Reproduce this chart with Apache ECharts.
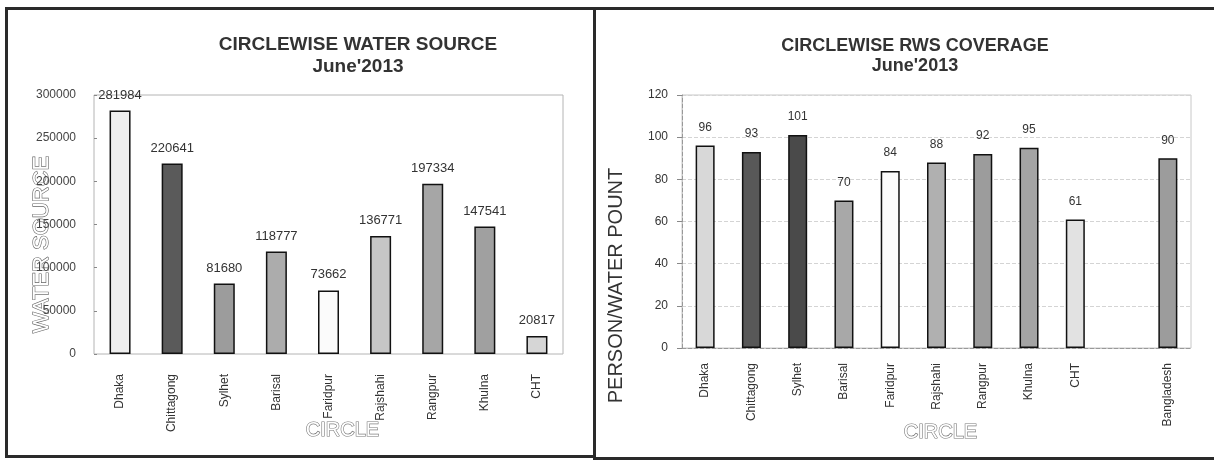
<!DOCTYPE html>
<html>
<head>
<meta charset="utf-8">
<script src="https://cdn.jsdelivr.net/npm/echarts@6/dist/echarts.min.js"></script>
<style>
	html, body { margin: 0; padding: 0; background: #fff; }
	#wrap { position: relative; width: 1214px; height: 461px; overflow: hidden; }
	.frame { position: absolute; border: 3px solid #2a2a2a; box-sizing: border-box; }
	#main { position: absolute; left: 0; top: 0; width: 1214px; height: 461px; }
</style>
</head>
<body>
<div id="wrap">
	<div class="frame" style="left:5px;top:7px;width:591px;height:451px;"></div>
	<div class="frame" style="left:593px;top:7px;width:640px;height:453px;"></div>
	<div id="main"></div>
</div>
<script>
	// left chart: water sources per circle
	var circles = ['Dhaka', 'Chittagong', 'Sylhet', 'Barisal', 'Faridpur', 'Rajshahi', 'Rangpur', 'Khulna', 'CHT'];
	var waterSource = [281984, 220641, 81680, 118777, 73662, 136771, 197334, 147541, 20817];
	var sourceTicks = [0, 50000, 100000, 150000, 200000, 250000, 300000];

	// right chart: persons per water point (blank slot before national figure)
	var coverageCircles = ['Dhaka', 'Chittagong', 'Sylhet', 'Barisal', 'Faridpur', 'Rajshahi', 'Rangpur', 'Khulna', 'CHT', '', 'Bangladesh'];
	var coverage = [96, 93, 101, 70, 84, 88, 92, 95, 61, '-', 90];
	var coverageTicks = [0, 20, 40, 60, 80, 100, 120];

	// bar fills, as in the scanned print
	var sourceColors = ['#eeeeee', '#5a5a5a', '#9c9c9c', '#acacac', '#fbfbfb', '#c6c6c6', '#a6a6a6', '#a0a0a0', '#d6d6d6'];
	var coverageColors = ['#d8d8d8', '#585858', '#4a4a4a', '#a8a8a8', '#fbfbfb', '#b0b0b0', '#9c9c9c', '#a4a4a4', '#e2e2e2', '#ffffff', '#9c9c9c'];

	var font = 'Liberation Sans, Arial, sans-serif';

	function bars(values, colors) {
		return values.map(function(v, i) {
			return {
				value: v,
				itemStyle: { color: colors[i], borderColor: '#111', borderWidth: 1.5 }
			};
		});
	}

	var chart = echarts.init(document.getElementById('main'));
	var option = {
		animation: false,
		title: [{
			text: "CIRCLEWISE WATER SOURCE\nJune'2013",
			left: 353,
			top: 29,
			textAlign: 'center',
			textStyle: { fontFamily: font, fontSize: 19, fontWeight: 'bold', color: '#333', lineHeight: 22 }
		}, {
			text: "CIRCLEWISE RWS COVERAGE\nJune'2013",
			left: 910,
			top: 31,
			textAlign: 'center',
			textStyle: { fontFamily: font, fontSize: 18, fontWeight: 'bold', color: '#333', lineHeight: 20 }
		}],
		grid: [{
			left: 94, right: 651, top: 95, bottom: 107,
			show: true, borderColor: '#b4b4b4', borderWidth: 1
		}, {
			left: 682, right: 23, top: 95, bottom: 113,
			show: true, borderColor: '#c8c8c8', borderWidth: 1
		}],
		xAxis: [{
			gridIndex: 0,
			type: 'category',
			data: circles,
			axisLine: { show: false },
			axisTick: { show: false },
			axisLabel: { rotate: 90, margin: 20, fontFamily: font, fontSize: 12, color: '#333', interval: 0 },
			name: 'CIRCLE',
			nameLocation: 'middle',
			nameGap: 66,
			nameMoveOverlap: false,
			nameTextStyle: {
				fontFamily: font, fontSize: 20, color: '#ffffff',
				textBorderColor: '#777', textBorderWidth: 1.2, padding: [0, 0, 0, 28]
			}
		}, {
			gridIndex: 1,
			type: 'category',
			data: coverageCircles,
			axisLine: { show: true, lineStyle: { color: '#999', type: 'dashed' } },
			axisTick: { show: false },
			axisLabel: { rotate: 90, margin: 15, fontFamily: font, fontSize: 12, color: '#333', interval: 0 },
			name: 'CIRCLE',
			nameLocation: 'middle',
			nameGap: 74,
			nameMoveOverlap: false,
			nameTextStyle: {
				fontFamily: font, fontSize: 20, color: '#ffffff',
				textBorderColor: '#777', textBorderWidth: 1.2, padding: [0, 0, 0, 8]
			}
		}],
		yAxis: [{
			gridIndex: 0,
			type: 'value',
			min: sourceTicks[0],
			max: sourceTicks[sourceTicks.length - 1],
			interval: sourceTicks[1] - sourceTicks[0],
			axisLine: { show: false },
			axisTick: { show: true, inside: true, length: 3, lineStyle: { color: '#888' } },
			splitLine: { show: false },
			axisLabel: {
				margin: 18, fontFamily: font, fontSize: 12, color: '#444',
				formatter: function(v) { return String(v); }
			},
			name: 'WATER SOURCE',
			nameLocation: 'middle',
			nameGap: 41,
			nameRotate: 90,
			nameMoveOverlap: false,
			nameTextStyle: {
				fontFamily: font, fontSize: 22, color: '#ffffff',
				textBorderColor: '#666', textBorderWidth: 1.2, padding: [0, 40, 0, 0]
			}
		}, {
			gridIndex: 1,
			type: 'value',
			min: coverageTicks[0],
			max: coverageTicks[coverageTicks.length - 1],
			interval: coverageTicks[1] - coverageTicks[0],
			axisLine: { show: true, lineStyle: { color: '#999', type: 'dashed' } },
			axisTick: { show: true, length: 5, lineStyle: { color: '#888' } },
			splitLine: { show: true, lineStyle: { color: '#d4d4d4', type: 'dashed' } },
			axisLabel: { margin: 14, fontFamily: font, fontSize: 12, color: '#333' },
			name: 'PERSON/WATER POUNT',
			nameLocation: 'middle',
			nameGap: 56,
			nameRotate: 90,
			nameMoveOverlap: false,
			nameTextStyle: {
				fontFamily: font, fontSize: 20, color: '#333',
				padding: [0, 128, 0, 0]
			}
		}],
		series: [{
			type: 'bar',
			xAxisIndex: 0,
			yAxisIndex: 0,
			barWidth: 21,
			data: bars(waterSource, sourceColors),
			label: { show: true, position: 'top', distance: 9, fontFamily: font, fontSize: 13, color: '#333' }
		}, {
			type: 'bar',
			xAxisIndex: 1,
			yAxisIndex: 1,
			barWidth: 19,
			data: bars(coverage, coverageColors),
			label: { show: true, position: 'top', distance: 12, fontFamily: font, fontSize: 12, color: '#333' }
		}]
	};
	chart.setOption(option);
</script>
</body>
</html>
